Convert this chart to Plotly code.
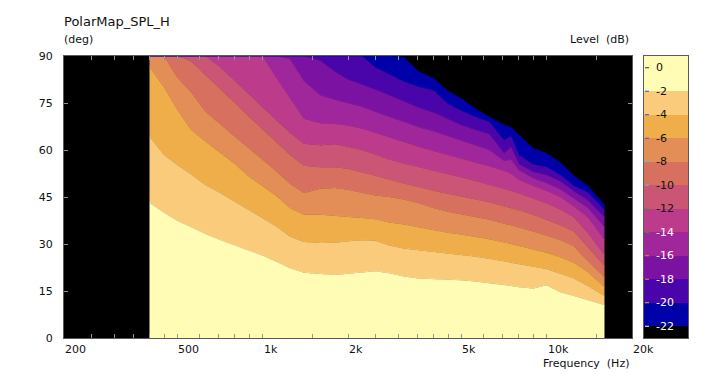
import numpy as np
import plotly.graph_objects as go

# ---------------- data ----------------
freqs = [400, 450, 500, 560, 630, 710, 800, 900, 1000, 1120, 1250, 1400, 1600, 1800,
         2000, 2240, 2500, 2800, 3150, 3550, 4000, 4500, 5000, 5600, 6300, 7100, 7500,
         8000, 9000, 10000, 11200, 12500, 14000, 16000]

# angle (deg) at which each level contour is crossed, per frequency (90 = not reached)
b_m2 = [43.2, 40.0, 37.5, 35.3, 33.2, 31.3, 29.6, 28.0, 26.3, 24.3, 22.3, 20.8, 20.4, 20.1,
        20.5, 21.0, 21.3, 20.7, 19.6, 19.0, 18.8, 18.6, 18.4, 18.0, 17.5, 17.0, 16.6,
        16.2, 15.8, 16.8, 14.6, 13.4, 12.0, 10.5]
b_m4 = [64.2, 58.5, 55.3, 52.3, 48.8, 46.3, 43.5, 40.8, 38.3, 35.6, 32.4, 30.6, 30.3, 30.4,
        30.9, 31.2, 31.0, 29.5, 28.6, 28.0, 27.4, 27.0, 26.5, 26.0, 25.3, 24.5, 24.0,
        23.5, 22.8, 22.0, 20.5, 19.0, 16.6, 13.4]
b_m6 = [86.5, 80.0, 73.0, 66.5, 62.7, 59.1, 55.5, 51.4, 48.5, 45.3, 41.5, 39.3, 39.3, 39.0,
        38.7, 38.3, 37.9, 36.9, 36.2, 35.3, 34.3, 33.6, 33.0, 32.3, 31.5, 30.5, 30.0,
        29.2, 28.2, 27.2, 25.8, 24.0, 21.0, 16.3]
b_m8 = [90.0, 90.0, 83.3, 78.5, 72.3, 68.1, 64.2, 60.4, 57.0, 53.2, 49.2, 46.3, 47.6, 47.9,
        47.3, 46.4, 45.5, 45.0, 44.2, 43.0, 41.5, 40.3, 39.5, 38.7, 37.7, 36.5, 36.0,
        35.3, 34.0, 32.8, 31.3, 29.3, 24.5, 19.5]
b_m10 = [90.0, 90.0, 90.0, 88.3, 84.0, 79.5, 75.0, 70.5, 66.5, 62.5, 58.5, 55.0, 54.5, 54.5,
         54.0, 53.0, 51.8, 50.5, 49.3, 48.2, 47.0, 46.0, 45.2, 44.3, 43.3, 42.0, 41.5,
         40.8, 39.3, 37.8, 36.0, 34.0, 28.8, 23.0]
b_m12 = [90.0, 90.0, 90.0, 90.0, 90.0, 86.5, 82.0, 77.5, 73.5, 69.5, 65.5, 62.0, 61.5, 61.8,
         61.0, 60.0, 58.6, 57.0, 55.7, 54.5, 53.3, 52.2, 51.3, 50.2, 49.0, 47.7, 47.0,
         46.2, 44.5, 43.0, 41.0, 38.5, 33.5, 26.5]
b_m14 = [90.0, 90.0, 90.0, 90.0, 90.0, 90.0, 90.0, 90.0, 90.0, 83.0, 76.5, 70.0, 68.5, 68.3,
         67.8, 66.8, 65.5, 64.0, 62.5, 61.0, 59.7, 58.5, 57.3, 56.0, 54.8, 53.3, 52.5,
         50.5, 48.5, 47.0, 45.0, 42.0, 38.5, 31.3]
b_m16 = [90.0, 90.0, 90.0, 90.0, 90.0, 90.0, 90.0, 90.0, 90.0, 90.0, 89.0, 82.0, 77.5, 76.0,
         75.0, 73.8, 72.2, 70.5, 69.0, 67.3, 66.0, 64.5, 63.0, 61.5, 60.0, 56.5, 57.0,
         53.5, 51.0, 49.5, 47.5, 44.5, 41.5, 35.4]
b_m18 = [90.0, 90.0, 90.0, 90.0, 90.0, 90.0, 90.0, 90.0, 90.0, 90.0, 90.0, 90.0, 88.5, 85.0,
         82.5, 81.0, 79.3, 77.5, 75.5, 73.5, 72.0, 70.0, 68.0, 66.5, 65.0, 59.0, 61.0,
         55.5, 53.0, 52.0, 50.0, 46.8, 44.0, 38.6]
b_m20 = [90.0, 90.0, 90.0, 90.0, 90.0, 90.0, 90.0, 90.0, 90.0, 90.0, 90.0, 90.0, 90.0, 90.0,
         90.0, 90.0, 86.3, 84.0, 81.8, 80.1, 79.0, 74.7, 72.5, 70.6, 68.9, 63.0, 64.5,
         58.4, 55.3, 54.6, 52.0, 48.5, 46.4, 40.9]
b_m22 = [90.0, 90.0, 90.0, 90.0, 90.0, 90.0, 90.0, 90.0, 90.0, 90.0, 90.0, 90.0, 90.0, 90.0,
         90.0, 90.0, 90.0, 90.0, 89.5, 85.0, 83.0, 78.8, 76.5, 73.3, 70.5, 68.0, 67.3,
         65.0, 60.5, 59.0, 56.0, 51.7, 48.5, 42.5]

boundaries = [b_m2, b_m4, b_m6, b_m8, b_m10, b_m12, b_m14, b_m16, b_m18, b_m20, b_m22]

levels = [0, -2, -4, -6, -8, -10, -12, -14, -16, -18, -20, -22]
band_colors = ["#FFFCB6", "#F9CB7A", "#F0AE4B", "#E38E57", "#D8705F", "#CA5575",
               "#BC3C8B", "#9F279B", "#7C12A2", "#4A05AA", "#0000A8", "#000000"]
level_tick_colors = ["#303030", "#2050ff", "#3a3aff", "#4848ff", "#40c8e0", "#40d0d0",
                     "#30a030", "#30a030", "#e09020", "#e09020", "#c8c020", "#ffffff"]
level_label_colors = ["#111111"] * 7 + ["#ffffff"] * 5
cbar_range = [-23, 1]

x_label_vals = [200, 500, 1000, 2000, 5000, 10000, 20000]
x_label_text = ["200", "500", "1k", "2k", "5k", "10k", "20k"]
x_minor_ticks = [250, 300, 350, 400, 450, 500, 600, 700, 800, 900, 1000, 1500, 2000,
                 2500, 3000, 3500, 4000, 4500, 5000, 6000, 7000, 8000, 9000, 10000, 15000]
y_ticks = [0, 15, 30, 45, 60, 75, 90]

# ---------------- geometry (page pixels; the page body has an 8px margin) ----------------
PAGE_W, PAGE_H = 702, 374
OFF = 8
W, H = PAGE_W - OFF, PAGE_H - OFF
plot_left, plot_top, plot_bottom = 64, 56, 338
main_right = 632
cb_left, cb_right = 644, 688
ML = plot_left - OFF
MT = plot_top - OFF
MR = W - (cb_right - OFF)
MB = H - (plot_bottom - OFF)
plot_w = W - ML - MR
ph = H - MT - MB
dom_main = [0, (main_right - plot_left) / plot_w]
dom_cb = [(cb_left - plot_left) / plot_w, 1.0]


def py(p):
    return (plot_bottom - p) / ph


def px(p):
    return (p - plot_left) / plot_w


fig = go.Figure()
for i, b in enumerate(boundaries):
    fig.add_trace(go.Scatter(
        x=freqs, y=b, mode="lines",
        line=dict(width=0.6, color=band_colors[i]),
        fill="tozeroy" if i == 0 else "tonexty",
        fillcolor=band_colors[i],
        hoverinfo="skip", showlegend=False))

# colour bar as stacked bars
uppers = [cbar_range[1]] + levels[1:]
lowers = levels[1:] + [cbar_range[0]]
fig.add_trace(go.Bar(
    x=[0] * len(levels), y=[u - l for u, l in zip(uppers, lowers)], base=lowers,
    marker=dict(color=band_colors, line=dict(width=0)), width=1,
    xaxis="x2", yaxis="y2", hoverinfo="skip", showlegend=False))

axis_line = "#5a5a5a"
tick_col = "#8a94a0"
font_fam = "DejaVu Sans, Verdana, sans-serif"

fig.update_layout(
    width=W, height=H,
    margin=dict(l=ML, r=MR, t=MT, b=MB, pad=0),
    paper_bgcolor="white", plot_bgcolor="black",
    barmode="overlay", bargap=0,
    font=dict(family=font_fam, size=11, color="#111111"),
    xaxis=dict(domain=dom_main, type="log",
               range=[np.log10(200), np.log10(20000)],
               tickvals=x_minor_ticks, showticklabels=False,
               ticks="inside", ticklen=4, tickcolor=tick_col, tickwidth=1,
               showline=True, linecolor=axis_line, linewidth=1, mirror="ticks",
               showgrid=False, zeroline=False),
    yaxis=dict(range=[0, 90], tickvals=y_ticks,
               ticks="inside", ticklen=4, tickcolor=tick_col, tickwidth=1,
               showline=True, linecolor=axis_line, linewidth=1, mirror="ticks",
               showgrid=False, zeroline=False, ticklabelstandoff=8,
               tickfont=dict(size=11, color="#111111")),
    xaxis2=dict(domain=dom_cb, range=[-0.5, 0.5], anchor="y2",
                showticklabels=False, ticks="", showgrid=False, zeroline=False,
                showline=True, linecolor=axis_line, linewidth=1, mirror=True),
    yaxis2=dict(range=cbar_range, anchor="x2", domain=[0, 1],
                showticklabels=False, ticks="", showgrid=False, zeroline=False,
                showline=True, linecolor=axis_line, linewidth=1, mirror=True),
)

annotations = []
for v, t in zip(x_label_vals, x_label_text):
    annotations.append(dict(x=np.log10(v), y=0, xref="x", yref="paper",
                            text=t, showarrow=False, xanchor="left", yanchor="top",
                            yshift=-3, xshift=-1, font=dict(size=11, color="#111111")))

cb_w = cb_right - cb_left
for lv, lc, tc in zip(levels, level_label_colors, level_tick_colors):
    annotations.append(dict(x=-0.5 + 10 / cb_w, y=lv, xref="x2", yref="y2",
                            text=str(lv), showarrow=False, xanchor="left",
                            yanchor="middle", font=dict(size=11, color=lc)))
    fig.add_shape(type="line", xref="x2", yref="y2", x0=-0.5 + 1 / cb_w,
                  x1=-0.5 + 5 / cb_w, y0=lv, y1=lv, line=dict(color=tc, width=1))

annotations += [
    dict(x=0, y=py(22), xref="paper", yref="paper", text="PolarMap_SPL_H",
         showarrow=False, xanchor="left", yanchor="middle", xshift=-2,
         font=dict(size=13, color="#111111")),
    dict(x=0, y=py(40), xref="paper", yref="paper", text="(deg)",
         showarrow=False, xanchor="left", yanchor="middle", xshift=-2,
         font=dict(size=11, color="#111111")),
    dict(x=px(631), y=py(40), xref="paper", yref="paper", text="Level  (dB)",
         showarrow=False, xanchor="right", yanchor="middle",
         font=dict(size=11, color="#111111")),
    dict(x=px(631), y=py(363), xref="paper", yref="paper", text="Frequency  (Hz)",
         showarrow=False, xanchor="right", yanchor="middle",
         font=dict(size=11, color="#111111")),
]
fig.update_layout(annotations=annotations)

fig.write_html("out.html")
